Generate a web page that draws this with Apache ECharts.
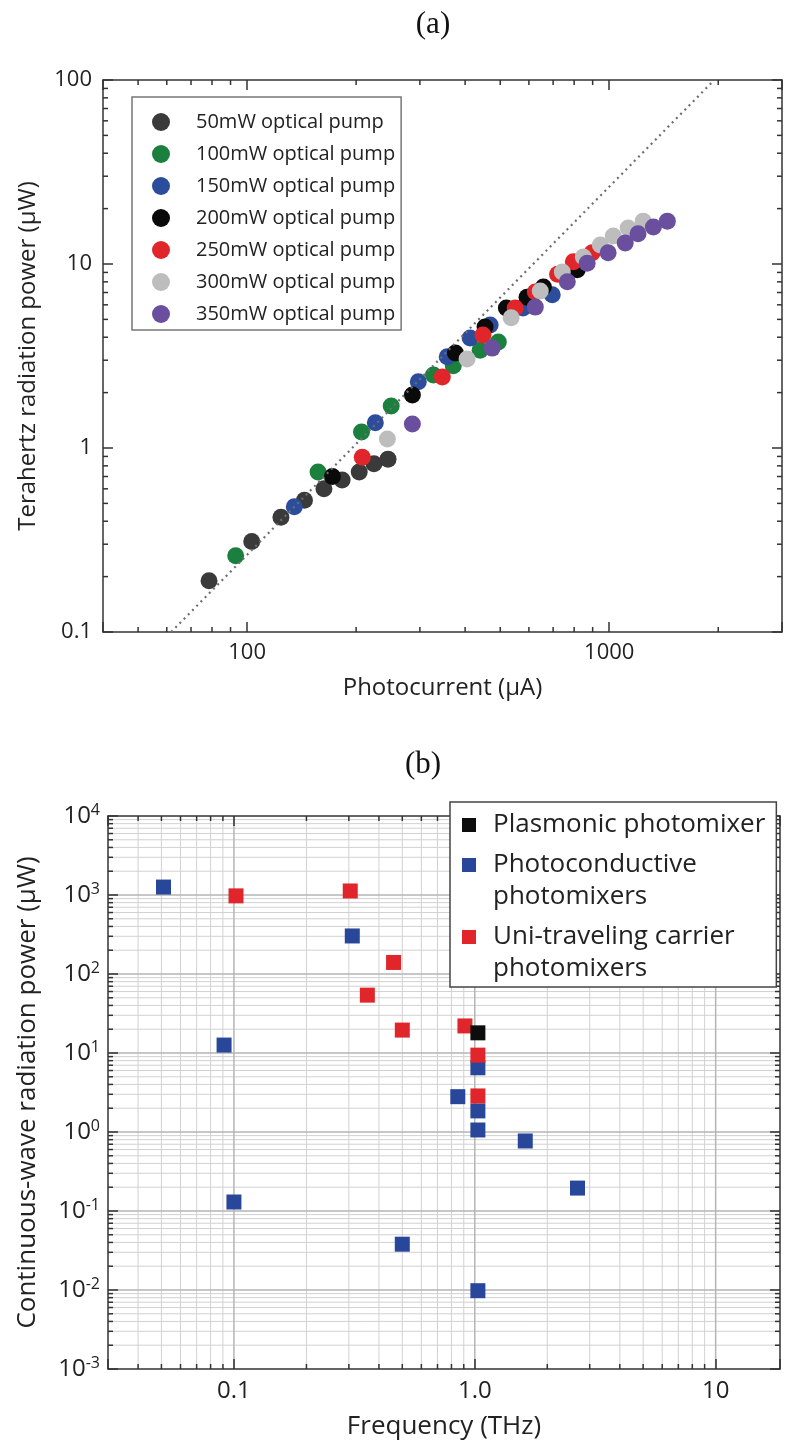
<!DOCTYPE html>
<html>
<head>
<meta charset="utf-8">
<script src="https://cdn.jsdelivr.net/npm/echarts@6/dist/echarts.min.js"></script>
<style>
html, body { margin: 0; background: #fff; }
#chart { width: 792px; height: 1443px; }
</style>
</head>
<body>
<div id="chart"></div>
<script>
// ---- panel (a): THz power vs photocurrent ----
var pumpNames = ['50mW optical pump', '100mW optical pump', '150mW optical pump', '200mW optical pump',
                 '250mW optical pump', '300mW optical pump', '350mW optical pump'];
var pumpColors = ['#3a3a3a', '#1b7f3e', '#2c4c9c', '#0a0a0a', '#e0262a', '#bdbdbd', '#6a4f9e'];

var pump50  = [[78.5, 0.19], [103, 0.31], [124, 0.42], [144, 0.52], [163, 0.6], [183, 0.67], [204, 0.74], [224, 0.82], [245, 0.87]];
var pump100 = [[93, 0.26], [157, 0.74], [207, 1.22], [250, 1.69], [327, 2.49], [371, 2.8], [440, 3.4], [494, 3.77]];
var pump150 = [[135, 0.48], [226, 1.37], [297, 2.29], [357, 3.13], [413, 3.96], [469, 4.66], [578, 5.77], [696, 6.8]];
var pump200 = [[172, 0.7], [286, 1.94], [376, 3.28], [454, 4.55], [520, 5.77], [593, 6.6], [658, 7.5], [816, 9.3]];
var pump250 = [[208, 0.89], [346, 2.43], [448, 4.11], [550, 5.77], [625, 7.05], [720, 8.8], [796, 10.3], [897, 11.5]];
var pump300 = [[244, 1.12], [405, 3.05], [536, 5.1], [645, 7.13], [742, 9.05], [848, 10.9], [945, 12.7], [1026, 14.2], [1128, 15.7], [1241, 17.1]];
var pump350 = [[286, 1.35], [475, 3.49], [625, 5.83], [766, 8.0], [869, 10.1], [993, 11.5], [1107, 13.0], [1201, 14.6], [1324, 15.9], [1447, 17.1]];
var pumpData = [pump50, pump100, pump150, pump200, pump250, pump300, pump350];

// dotted P ~ I^2 guide line
var fitLine = [[61.7, 0.1], [1950, 100]];

var aRangeX = [40, 3000];
var aRangeY = [0.1, 100];
var aMinorX = [50, 60, 70, 80, 90, 200, 300, 400, 500, 600, 700, 800, 900, 2000];
var aMinorY = [0.2, 0.3, 0.4, 0.5, 0.6, 0.7, 0.8, 0.9, 2, 3, 4, 5, 6, 7, 8, 9, 20, 30, 40, 50, 60, 70, 80, 90];

// ---- panel (b): CW power vs frequency ----
var deviceNames = ['Plasmonic photomixer', 'Photoconductive\nphotomixers', 'Uni-traveling carrier\nphotomixers'];
var deviceColors = ['#0d0d0d', '#29479a', '#e1262b'];
var plasmonic = [[1.03, 18]];
var photoconductive = [[0.051, 1260], [0.091, 12.6], [0.1, 0.13], [0.31, 303], [0.5, 0.038], [0.85, 2.8],
                       [1.03, 6.5], [1.03, 1.85], [1.03, 1.06], [1.03, 0.0098], [1.62, 0.77], [2.67, 0.195]];
var utc = [[0.102, 975], [0.304, 1125], [0.358, 54], [0.46, 140], [0.5, 19.5], [0.91, 22], [1.03, 9.4], [1.03, 2.86]];

var bRangeX = [0.03, 18.5];
var bRangeY = [0.001, 10000];
var bMajorX = [0.1, 1, 10];
var bMajorY = [0.01, 0.1, 1, 10, 100, 1000];
var bMinorX = [0.04, 0.05, 0.06, 0.07, 0.08, 0.09, 0.2, 0.3, 0.4, 0.5, 0.6, 0.7, 0.8, 0.9, 2, 3, 4, 5, 6, 7, 8, 9];
var bDecadesY = [0.001, 0.01, 0.1, 1, 10, 100, 1000];
var minorSteps = [2, 3, 4, 5, 6, 7, 8, 9];

var font = 'Open Sans';
var ink = '#222';

function decadeSteps(decades) {
    var out = [];
    decades.forEach(function (d) {
        minorSteps.forEach(function (s) { out.push(+(d * s).toPrecision(3)); });
    });
    return out;
}
var bMinorY = decadeSteps(bDecadesY);

function isPow10(v) {
    var l = Math.log(v) / Math.LN10;
    return Math.abs(l - Math.round(l)) < 1e-6;
}

// [value, value, direction(0 = x, 1 = y), extra]
function lineItems(xs, ys, extra) {
    var items = [];
    xs.forEach(function (v) { items.push([v, v, 0, extra]); });
    ys.forEach(function (v) { items.push([v, v, 1, extra]); });
    return items;
}

// short inside ticks on all four sides of the box
function edgeTicks(xr, yr) {
    return function (params, api) {
        var v = api.value(0), dir = api.value(2), len = api.value(3);
        var a, b, s1, s2;
        if (dir === 0) {
            a = api.coord([v, yr[0]]); b = api.coord([v, yr[1]]);
            s1 = {x1: a[0], y1: a[1], x2: a[0], y2: a[1] - len};
            s2 = {x1: b[0], y1: b[1], x2: b[0], y2: b[1] + len};
        } else {
            a = api.coord([xr[0], v]); b = api.coord([xr[1], v]);
            s1 = {x1: a[0], y1: a[1], x2: a[0] + len, y2: a[1]};
            s2 = {x1: b[0], y1: b[1], x2: b[0] - len, y2: b[1]};
        }
        var st = {stroke: '#333', lineWidth: 1.5};
        return {type: 'group', children: [
            {type: 'line', shape: s1, style: st},
            {type: 'line', shape: s2, style: st}
        ]};
    };
}

function gridLines(xr, yr) {
    return function (params, api) {
        var v = api.value(0), dir = api.value(2), major = api.value(3);
        var a, b;
        if (dir === 0) { a = api.coord([v, yr[0]]); b = api.coord([v, yr[1]]); }
        else { a = api.coord([xr[0], v]); b = api.coord([xr[1], v]); }
        return {type: 'line', shape: {x1: a[0], y1: a[1], x2: b[0], y2: b[1]},
                style: {stroke: major ? '#b5b5b5' : '#d2d2d2', lineWidth: major ? 1.5 : 1}};
    };
}

function boxAxis(grid, pos, range, label, extra) {
    var ax = {
        gridIndex: grid, type: 'log', position: pos, min: range[0], max: range[1], z: 3,
        axisLine: {onZero: false, lineStyle: {color: '#333', width: 1.5}},
        axisTick: {inside: true, length: 10, lineStyle: {color: '#333', width: 1.5}},
        splitLine: {show: false},
        axisLabel: label || {show: false}
    };
    for (var k in extra) ax[k] = extra[k];
    return ax;
}

var chart = echarts.init(document.getElementById('chart'));

var series = [];
pumpData.forEach(function (d, i) {
    series.push({
        name: pumpNames[i], type: 'scatter', xAxisIndex: 0, yAxisIndex: 0, z: 5,
        symbol: 'circle', symbolSize: 17, data: d,
        itemStyle: {color: pumpColors[i], opacity: 1}
    });
});
series.push({
    name: 'fit', type: 'line', xAxisIndex: 0, yAxisIndex: 0, z: 6, data: fitLine,
    showSymbol: false, symbol: 'none',
    lineStyle: {type: [2, 4], color: '#6e6e6e', width: 2.2}
});
series.push({
    type: 'custom', xAxisIndex: 0, yAxisIndex: 0, z: 4, silent: true,
    encode: {x: 0, y: 1}, data: lineItems(aMinorX, aMinorY, 5),
    renderItem: edgeTicks(aRangeX, aRangeY)
});

series.push({
    type: 'custom', xAxisIndex: 2, yAxisIndex: 2, z: 1, silent: true,
    encode: {x: 0, y: 1},
    data: lineItems(bMinorX, bMinorY, 0).concat(lineItems(bMajorX, bMajorY, 1)),
    renderItem: gridLines(bRangeX, bRangeY)
});
series.push({
    type: 'custom', xAxisIndex: 2, yAxisIndex: 2, z: 4, silent: true,
    encode: {x: 0, y: 1}, data: lineItems(bMinorX, bMinorY, 5),
    renderItem: edgeTicks(bRangeX, bRangeY)
});
[[photoconductive, 1], [utc, 2], [plasmonic, 0]].forEach(function (p) {
    series.push({
        name: deviceNames[p[1]], type: 'scatter', xAxisIndex: 2, yAxisIndex: 2, z: 5,
        symbol: 'rect', symbolSize: 15, data: p[0],
        itemStyle: {color: deviceColors[p[1]], opacity: 1}
    });
});

var titleStyle = {fontFamily: 'Liberation Serif', fontSize: 31, fontWeight: 'normal', color: '#111'};

var option = {
    animation: false,
    backgroundColor: '#fff',
    title: [
        {text: '(a)', left: 428, top: 4, textAlign: 'center', textStyle: titleStyle},
        {text: '(b)', left: 418, top: 744, textAlign: 'center', textStyle: titleStyle}
    ],
    grid: [
        {left: 103, top: 80, width: 679, height: 552},
        {left: 108, top: 816, width: 672, height: 553}
    ],
    legend: [
        {
            orient: 'vertical', left: 132, top: 97, data: pumpNames, icon: 'circle',
            itemWidth: 18, itemHeight: 18, itemGap: 12, padding: [15, 6, 6, 20],
            borderColor: '#777', borderWidth: 1.5, backgroundColor: '#fff', z: 10,
            textStyle: {fontFamily: font, fontSize: 20, lineHeight: 18, color: ink, padding: [0, 0, 0, 21]}
        },
        {
            orient: 'vertical', left: 450, top: 802, icon: 'rect', data: deviceNames,
            itemWidth: 14, itemHeight: 14, itemGap: -24, padding: [7, 11, 2, 12],
            borderColor: '#444', borderWidth: 1.5, backgroundColor: '#fff', z: 10,
            // two-line names: an empty first line keeps the icon level with the first text line
            formatter: function (name) { return name.indexOf('\n') >= 0 ? '\n' + name : name; },
            textStyle: {fontFamily: font, fontSize: 26, lineHeight: 32, color: ink, padding: [0, 0, 0, 12]}
        }
    ],
    xAxis: [
        boxAxis(0, 'bottom', aRangeX, {
            fontFamily: font, fontSize: 22, color: ink, margin: 10,
            formatter: function (v) { return isPow10(v) ? String(Math.round(v)) : ''; }
        }, {
            name: 'Photocurrent (μA)', nameLocation: 'middle', nameGap: 44,
            nameTextStyle: {fontFamily: font, fontSize: 24, color: ink}
        }),
        boxAxis(0, 'top', aRangeX),
        boxAxis(1, 'bottom', bRangeX, {
            fontFamily: font, fontSize: 24, color: ink, margin: 10,
            formatter: function (v) {
                if (!isPow10(v)) return '';
                var n = Math.round(Math.log(v) / Math.LN10);
                return n === 0 ? '1.0' : (n < 0 ? '0.1' : '10');
            }
        }, {
            name: 'Frequency (THz)', nameLocation: 'middle', nameGap: 45,
            nameTextStyle: {fontFamily: font, fontSize: 26, color: ink}
        }),
        boxAxis(1, 'top', bRangeX)
    ],
    yAxis: [
        boxAxis(0, 'left', aRangeY, {
            fontFamily: font, fontSize: 22, color: ink, margin: 11,
            formatter: function (v) { return v < 1 ? '0.1' : String(Math.round(v)); }
        }, {
            name: 'Terahertz radiation power (μW)', nameLocation: 'middle', nameGap: 63,
            nameTextStyle: {fontFamily: font, fontSize: 24, color: ink}
        }),
        boxAxis(0, 'right', aRangeY),
        boxAxis(1, 'left', bRangeY, {
            fontFamily: font, color: ink, margin: 8,
            formatter: function (v) {
                var n = Math.round(Math.log(v) / Math.LN10);
                return '{b|10}{s|' + n + '}';
            },
            rich: {
                b: {fontFamily: font, fontSize: 24, color: ink, lineHeight: 28},
                s: {fontFamily: font, fontSize: 16, color: ink, lineHeight: 15, verticalAlign: 'top'}
            }
        }, {
            name: 'Continuous-wave radiation power (μW)', nameLocation: 'middle', nameGap: 67,
            nameTextStyle: {fontFamily: font, fontSize: 26, color: ink}
        }),
        boxAxis(1, 'right', bRangeY)
    ],
    series: series
};

chart.setOption(option);
</script>
</body>
</html>
